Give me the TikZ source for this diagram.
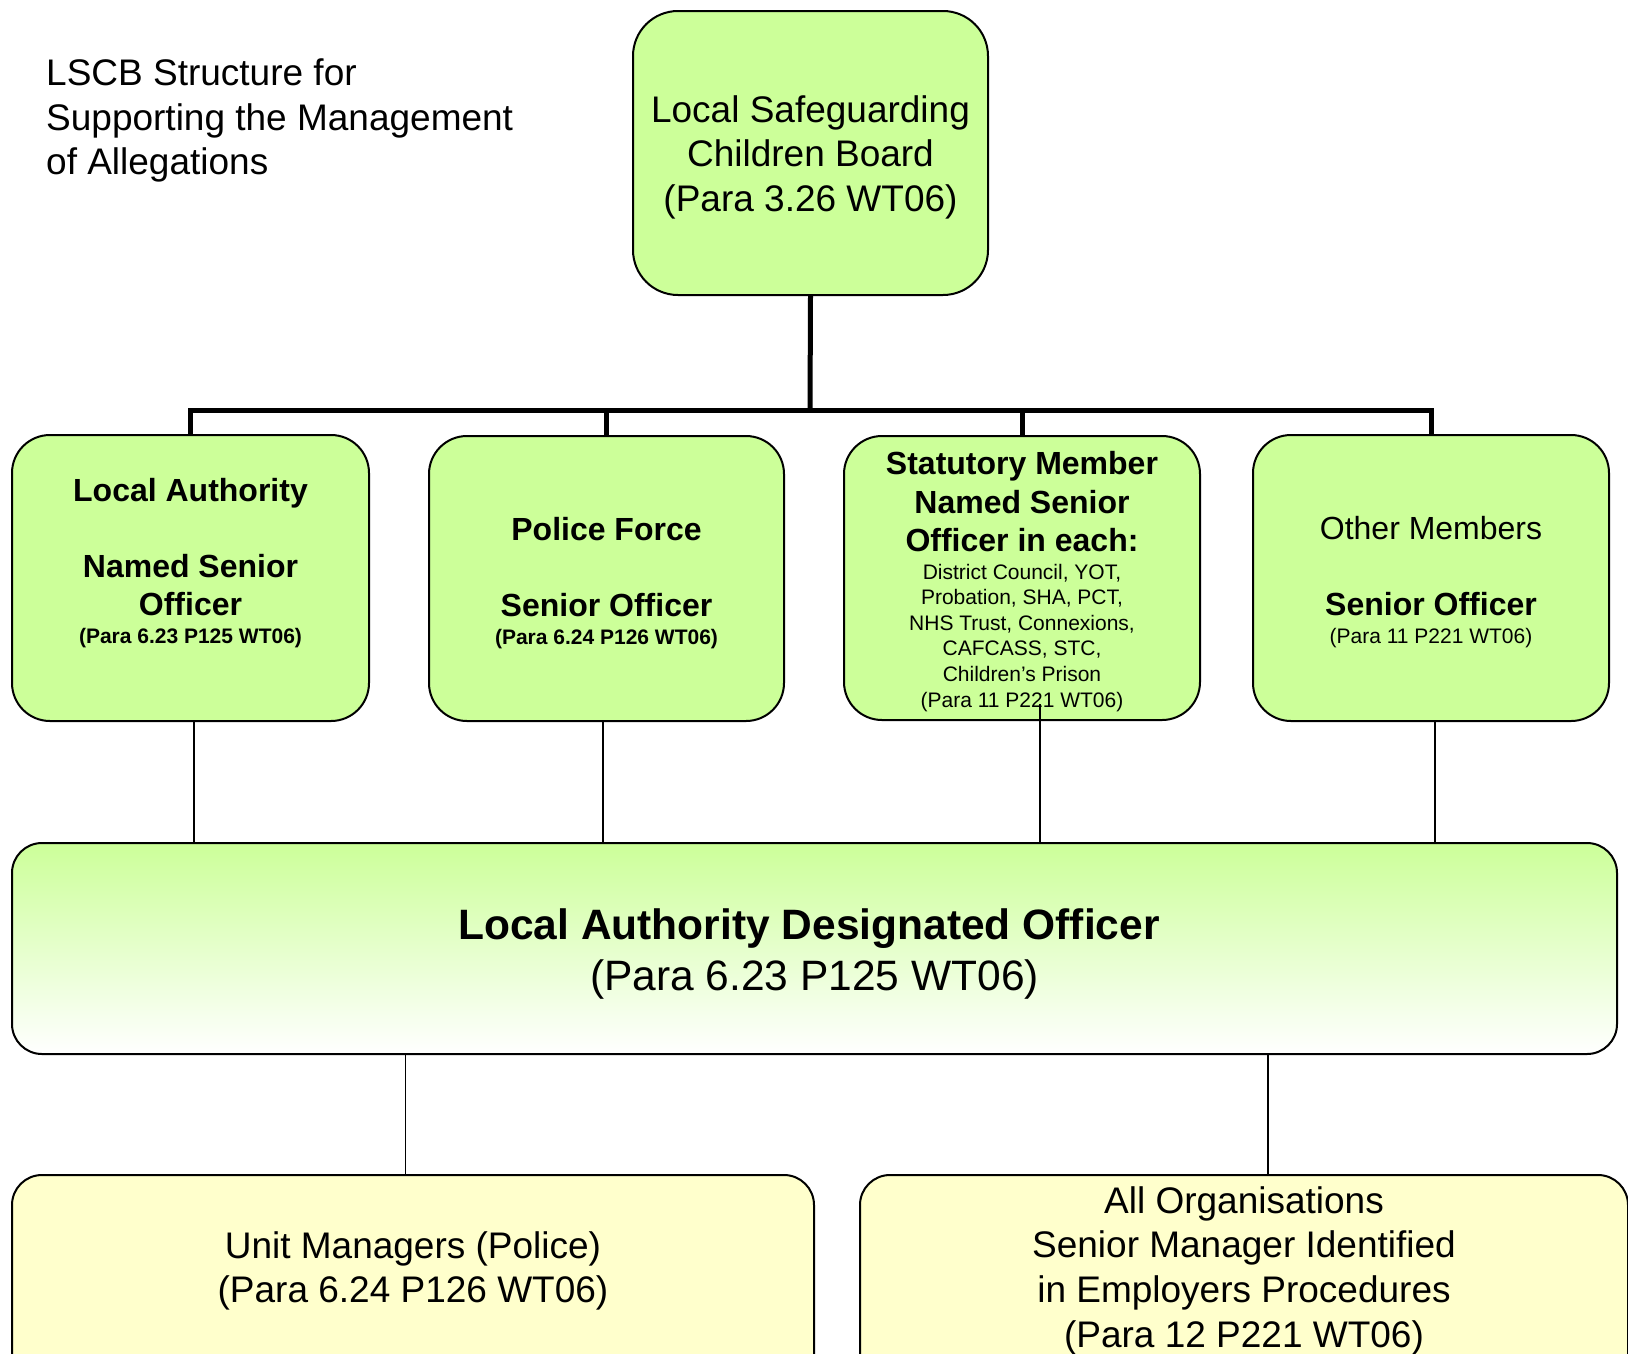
\documentclass[tikz,border=0pt]{standalone}
\usepackage{fontspec}
\setmainfont{Liberation Sans}
\newcommand\fsz[2]{\fontsize{#1}{#2}\selectfont}
\newcommand\boxtxt[4]{\parbox[c][#2][t]{#1}{\centering\vspace*{#3}#4}}
\definecolor{lgreen}{RGB}{204,255,153}
\definecolor{lyellow}{RGB}{255,255,204}
\begin{document}
\begin{tikzpicture}[x=1pt,y=-1pt,
  gbox/.style={draw=black,line width=2pt,fill=lgreen,inner sep=0pt,anchor=north west},
  ybox/.style={draw=black,line width=2pt,fill=lyellow,inner sep=0pt,anchor=north west},
  busline/.style={line width=5pt},
  thinline/.style={line width=1.5pt}]
\useasboundingbox (0,0) rectangle (1628,1353);
\fill[white] (0,0) rectangle (1628,1353);

% title
\node[anchor=north west,inner sep=0pt] (title) at (46,54.5)
  {\parbox[t]{560pt}{\raggedright\fsz{37}{44.4}\strut LSCB Structure for\\Supporting the Management\\of Allegations}};

% top box
\node[gbox,rounded corners=45pt] (lscb) at (632,10)
  {\boxtxt{355pt}{284pt}{80pt}{\fsz{37}{44.6}\strut Local Safeguarding\\Children Board\\(Para 3.26 WT06)\par}};

% member boxes
\node[gbox,rounded corners=38pt] (b1) at (11,434)
  {\boxtxt{357pt}{286pt}{39.9pt}{{\bfseries\fsz{32}{38}\strut Local Authority\\[38pt]Named Senior\\Officer\par}\vspace{3pt}{\bfseries\fsz{21}{25}(Para 6.23 P125 WT06)\par}}};
\node[gbox,rounded corners=38pt] (b2) at (428,435)
  {\boxtxt{355pt}{285pt}{77.4pt}{{\bfseries\fsz{32}{38}\strut Police Force\\[38pt]Senior Officer\par}\vspace{3pt}{\bfseries\fsz{21}{25}(Para 6.24 P126 WT06)\par}}};
\node[gbox,rounded corners=38pt] (b3) at (843,435)
  {\boxtxt{356pt}{284pt}{12pt}{{\bfseries\fsz{32}{38.5}\strut Statutory Member\\Named Senior\\Officer in each:\par}\vspace{1.5pt}{\fsz{21}{25.6}District Council, YOT,\\Probation, SHA, PCT,\\NHS Trust, Connexions,\\CAFCASS, STC,\\Children’s Prison\\(Para 11 P221 WT06)\par}}};
\node[gbox,rounded corners=38pt] (b4) at (1252,434)
  {\boxtxt{356pt}{286pt}{77.4pt}{{\fsz{32}{38}\strut Other Members\\[38pt]\bfseries Senior Officer\par}\vspace{3pt}{\fsz{21}{25}(Para 11 P221 WT06)\par}}};

% designated officer
\node[draw=black,line width=2pt,inner sep=0pt,anchor=north west,rounded corners=30pt,
  top color=lgreen,bottom color=white] (lado) at (11,842)
  {\boxtxt{1605pt}{211pt}{60.6pt}{{\fsz{42.5}{51}\strut\bfseries\hspace*{-11pt}Local Authority Designated Officer\\\mdseries (Para 6.23 P125 WT06)\par}}};

% bottom boxes
\node[ybox,rounded corners=30pt] (unit) at (11,1174)
  {\boxtxt{802pt}{226pt}{52.1pt}{{\fsz{37}{44.6}\strut Unit Managers (Police)\\(Para 6.24 P126 WT06)\par}}};
\node[ybox,rounded corners=30pt] (allorg) at (859,1174)
  {\boxtxt{768pt}{226pt}{7.1pt}{{\fsz{37}{44.6}\strut All Organisations\\Senior Manager Identified\\in Employers Procedures\\(Para 12 P221 WT06)\par}}};

% bus connectors
\coordinate (bus) at (810,410);
\draw[busline] (lscb.south) -- (bus);
\draw[busline] (b1.north) |- (bus) -| (b4.north);
\draw[busline] (b2.north) -- (b2.north |- bus);
\draw[busline] (b3.north) -- (b3.north |- bus);

% thin connectors to designated officer
\draw[thinline] ([xshift=3.5pt]b1.south) -- ([xshift=3.5pt]b1.south |- lado.north);
\draw[thinline] ([xshift=-3.5pt]b2.south) -- ([xshift=-3.5pt]b2.south |- lado.north);
\draw[thinline] ([xshift=18pt,yshift=17pt]b3.south) -- ([xshift=18pt]b3.south |- lado.north);
\draw[thinline] ([xshift=4pt]b4.south) -- ([xshift=4pt]b4.south |- lado.north);

% thin connectors to bottom boxes
\draw[thinline] ([xshift=-7.5pt]unit.north) -- ([xshift=-7.5pt]unit.north |- lado.south);
\draw[thinline] ([xshift=24pt]allorg.north) -- ([xshift=24pt]allorg.north |- lado.south);
\end{tikzpicture}
\end{document}
